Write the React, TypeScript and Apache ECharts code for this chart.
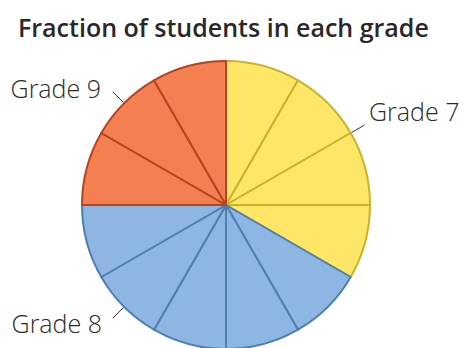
import React, { useEffect, useRef } from 'react';
import * as echarts from 'echarts';

// Data: fraction of students (in twelfths) per grade
const grades = ['Grade 7', 'Grade 8', 'Grade 9'];
const twelfths = [4, 5, 3];

// Styles
const fillColors = ['#ffe666', '#8db7e2', '#f47f50'];
const borderColors = ['#c9b32b', '#4f7fb0', '#b9431f'];

// Label layout (which sub-slice carries the label, leader angle, text anchor)
const labelSlice = [1, 3, 1];
const leaderAngles = [30, -135, 135];
const labelAnchors: [number, number, 'left' | 'right'][] = [
  [369, 111, 'left'],
  [102, 323, 'right'],
  [101, 88, 'right'],
];

const CX = 226;
const CY = 205;
const R = 144;

export default function App() {
  const ref = useRef<HTMLDivElement>(null);
  useEffect(() => {
    if (!ref.current) return;
    const chart = echarts.init(ref.current, undefined, { renderer: 'svg' });

    const data: any[] = [];
    const labelMap: Record<number, number> = {};
    grades.forEach((g, gi) => {
      for (let k = 0; k < twelfths[gi]; k++) {
        const isLabel = k === labelSlice[gi];
        if (isLabel) labelMap[data.length] = gi;
        data.push({
          name: isLabel ? g : g + '-' + k,
          value: 1,
          itemStyle: { color: fillColors[gi], borderColor: borderColors[gi], borderWidth: 2 },
          label: { show: isLabel, formatter: g },
          labelLine: { show: isLabel },
        });
      }
    });

    chart.setOption({
      animation: false,
      title: {
        text: 'Fraction of students in each grade',
        left: 13,
        top: 9,
        textStyle: { fontFamily: 'Open Sans', fontSize: 25, fontWeight: 600, color: '#2b2728' },
      },
      series: [
        {
          type: 'pie',
          center: [CX, CY],
          radius: R,
          startAngle: 90,
          clockwise: true,
          silent: true,
          data,
          label: {
            position: 'outside',
            fontFamily: 'Open Sans',
            fontSize: 25,
            fontWeight: 300,
            color: '#2a2a2a',
          },
          labelLine: { show: true, length: 14, length2: 0, lineStyle: { color: '#333333', width: 1 } },
          labelLayout: (params: any) => {
            const gi = labelMap[params.dataIndex];
            if (gi === undefined) return {};
            const a = (leaderAngles[gi] * Math.PI) / 180;
            const p1 = [CX + (R + 1) * Math.cos(a), CY - (R + 1) * Math.sin(a)];
            const p2 = [CX + (R + 16) * Math.cos(a), CY - (R + 16) * Math.sin(a)];
            const [x, y, align] = labelAnchors[gi];
            return {
              x,
              y,
              align,
              verticalAlign: 'middle',
              labelLinePoints: [p1, p2, p2],
            };
          },
          emphasis: { disabled: true },
        },
      ],
    });
    return () => chart.dispose();
  }, []);
  return (
    <div
      ref={ref}
      style={{ position: 'fixed', left: 0, top: 0, width: 466, height: 348, background: '#ffffff' }}
    />
  );
}
